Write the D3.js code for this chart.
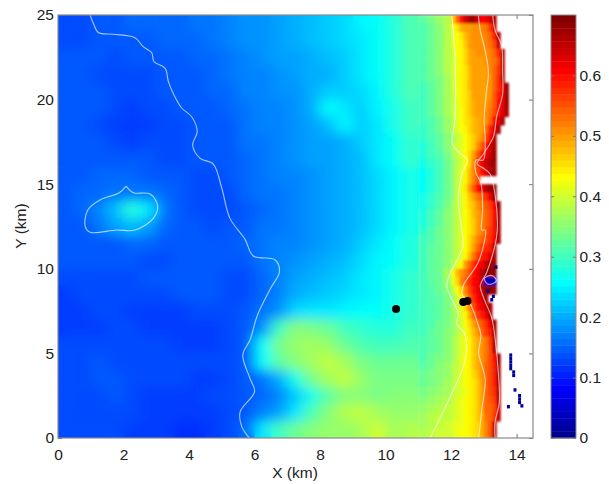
<!DOCTYPE html>
<html>
<head>
<meta charset="utf-8">
<script src="https://cdn.jsdelivr.net/npm/d3@7"></script>
<style>
body { margin: 0; background: #fff; }
text { font-family: "Liberation Sans", Arial, sans-serif; fill: #222; }
</style>
</head>
<body>
<div id="my_dataviz"></div>
<script>
var _ = null

// tick labels
var xTicks = [0, 2, 4, 6, 8, 10, 12, 14]
var yTicks = [0, 5, 10, 15, 20, 25]
var barTicks = [0, 0.1, 0.2, 0.3, 0.4, 0.5, 0.6]

// offshore part of the field, values x100. Columns are 0.5 km wide, rows 1 km tall, top row first
var offshoreX = [0, 0.5, 1, 1.5, 2, 2.5, 3, 3.5, 4, 4.5, 5, 5.5, 6, 6.5, 7, 7.5, 8, 8.5, 9, 9.5, 10, 10.5, 11]
var offshoreRows = [
    [13,13,14,14,15,15,15,15,16,16,17,18,18,19,20,21,22,23,25,26,28,31],
    [13,13,14,14,14,14,15,15,15,16,17,18,18,19,20,21,22,23,24,26,28,31],
    [14,14,14,13,14,14,14,14,15,15,16,17,18,19,19,20,21,22,24,26,28,31],
    [14,14,13,13,13,13,14,14,14,15,16,17,17,18,19,20,20,22,24,26,28,31],
    [14,14,14,13,13,13,14,14,14,15,15,17,17,18,18,20,22,22,23,25,28,31],
    [14,14,14,13,12,13,13,14,14,14,15,16,17,17,18,20,26,24,22,25,27,30],
    [14,14,13,12,12,12,13,13,14,14,14,16,17,17,18,19,21,25,22,24,27,30],
    [14,14,14,13,12,13,13,13,14,14,14,16,16,17,18,19,19,20,22,24,26,29],
    [14,14,14,14,14,14,13,13,14,14,14,15,16,17,18,19,19,20,21,24,26,29],
    [14,14,15,15,15,14,14,14,13,13,14,15,16,17,17,18,19,20,21,23,25,27],
    [14,15,15,16,16,16,15,14,13,13,13,15,16,16,17,18,19,20,21,23,25,27],
    [14,15,17,21,28,24,16,14,13,13,13,14,15,16,17,18,19,20,21,23,25,27],
    [14,14,16,19,21,19,15,14,14,13,14,14,16,16,17,18,19,20,21,23,25,27],
    [14,14,14,14,15,15,14,14,14,14,14,15,16,17,17,18,19,20,22,24,26,28],
    [14,14,14,14,14,13,13,14,14,14,14,14,16,17,18,19,20,21,23,25,26,28],
    [13,13,13,13,13,14,14,14,14,14,13,13,15,17,19,20,21,22,24,25,27,29],
    [12,13,13,13,13,13,13,14,14,14,13,13,15,17,20,21,22,23,24,25,27,29],
    [12,12,13,13,12,12,12,12,13,13,13,14,16,18,23,24,24,25,26,26,27,29],
    [12,12,12,13,13,12,12,12,12,12,13,14,18,30,35,34,33,30,29,28,28,30],
    [13,13,13,13,13,13,13,12,12,12,13,14,26,34,36,37,36,33,31,30,30,31],
    [13,13,14,13,13,13,13,13,13,13,13,14,26,32,35,37,39,37,34,33,33,33],
    [13,13,14,14,13,13,13,13,12,12,13,14,16,20,27,34,37,39,36,34,34,34],
    [13,13,13,14,13,12,12,12,12,13,13,14,15,17,22,27,32,35,35,34,35,35],
    [13,13,13,13,13,12,12,12,12,12,13,14,17,19,24,31,35,38,39,37,36,36],
    [13,13,13,13,12,12,12,11,11,12,13,15,24,30,33,35,36,36,37,40,37,38]
]

// coastal part of the field, values x100. Rows are 0.5 km tall, top row first, null is no data
var coastX = [11, 11.25, 11.5, 11.75, 12, 12.125, 12.25, 12.375, 12.5, 12.625, 12.75, 12.875, 13, 13.125, 13.25, 13.375, 13.5, 13.625, 13.75]
var coastRows = [
    [32,34,36,38,47,54,60,64,67,68,64,61,62,64,67,_,_,_],
    [31,33,35,38,42,45,49,50,50,51,51,52,53,57,64,_,_,_],
    [31,33,35,38,41,43,45,48,50,51,51,51,52,54,59,66,_,_],
    [31,33,35,38,41,43,44,47,50,51,51,51,52,53,56,64,_,_],
    [31,33,35,38,40,43,44,46,49,50,51,51,51,52,54,58,66,_],
    [31,33,35,38,40,42,44,46,49,50,50,50,51,52,53,56,65,_],
    [31,33,35,38,40,42,44,45,48,50,50,50,50,52,54,57,65,_],
    [31,33,34,37,40,42,44,45,48,50,50,50,50,51,54,58,66,_],
    [30,32,34,37,40,42,44,45,48,50,50,50,50,51,54,58,62,68],
    [30,32,34,37,39,42,44,45,47,50,50,50,50,51,55,59,62,68],
    [30,32,34,37,39,41,44,45,47,49,50,50,50,52,55,60,62,68],
    [30,32,34,37,39,41,43,45,47,49,50,50,51,53,56,60,63,67],
    [30,31,33,36,38,41,43,45,46,48,49,50,51,54,60,63,67,_],
    [29,31,33,36,38,41,43,44,46,48,49,50,53,59,62,67,_,_],
    [29,31,32,35,37,39,41,43,45,47,49,51,56,60,66,_,_,_],
    [28,30,32,35,38,40,41,43,45,47,51,55,60,64,67,_,_,_],
    [28,30,31,34,37,39,41,43,46,50,55,59,62,65,68,_,_,_],
    [27,29,30,33,36,38,40,43,46,52,58,62,65,67,68,_,_,_],
    [26,28,30,33,36,39,41,44,48,52,56,60,63,66,68,_,_,_],
    [26,28,30,33,36,39,41,44,48,52,56,_,_,_,_,_,_,_],
    [26,28,30,33,36,39,42,45,50,55,60,63,66,68,68,_,_,_],
    [27,29,31,33,36,39,41,44,47,50,53,55,58,62,68,_,_,_],
    [27,29,31,34,37,39,41,44,46,48,51,53,55,57,61,68,_,_],
    [28,30,32,35,37,39,41,43,45,48,50,52,54,56,60,67,_,_],
    [28,30,32,35,37,39,41,43,45,47,50,52,54,56,60,67,_,_],
    [29,31,33,35,37,39,41,43,45,47,50,52,55,57,60,67,_,_],
    [30,31,33,35,37,39,41,43,46,49,52,54,56,58,61,67,_,_],
    [30,32,33,35,37,39,41,43,46,50,54,57,58,59,66,_,_,_],
    [30,32,33,35,37,39,41,44,48,53,57,59,60,63,67,_,_,_],
    [30,32,33,35,38,41,44,50,54,58,61,62,65,68,68,_,_,_],
    [30,32,33,37,43,48,51,53,56,60,62,66,69,69,69,_,_,_],
    [30,32,33,36,42,46,52,55,58,61,62,65,3,3,3,_,_,_],
    [30,31,33,35,39,43,47,52,56,60,62,65,69,69,68,_,_,_],
    [30,31,32,34,37,40,44,50,55,58,61,64,67,_,_,_,_,_],
    [30,31,32,34,37,39,42,46,52,56,60,62,65,67,_,_,_,_],
    [30,31,32,34,36,38,41,44,49,54,57,59,62,67,_,_,_,_],
    [30,31,33,34,36,38,40,43,46,50,53,55,58,62,68,_,_,_],
    [30,32,33,35,36,38,40,42,45,48,51,54,57,59,67,_,_,_],
    [31,32,33,35,37,39,41,42,44,47,49,51,53,57,66,_,_,_],
    [31,32,33,35,37,39,41,42,44,47,49,51,53,56,66,_,_,_],
    [31,33,34,35,37,39,41,43,44,47,49,51,53,56,60,68,_,_],
    [32,33,35,36,38,39,41,43,44,47,49,51,54,56,59,67,_,_],
    [33,34,35,36,38,40,41,43,44,46,48,51,54,56,59,67,_,_],
    [33,34,35,37,38,40,41,43,44,45,47,50,54,56,59,66,_,_],
    [34,35,36,37,39,40,41,42,44,45,47,50,54,56,58,66,_,_],
    [35,36,37,38,39,41,42,43,44,45,47,50,54,55,57,65,_,_],
    [36,37,38,39,40,41,42,43,44,45,47,50,54,54,56,64,_,_],
    [37,38,39,39,40,41,42,43,44,45,47,49,53,54,57,65,_,_],
    [37,38,39,40,41,42,42,43,44,45,46,49,52,55,65,_,_,_],
    [38,39,40,40,41,42,43,43,44,45,46,49,52,55,66,_,_,_]
]

// isolated low value cells out in the white part
var speckX = [13.82, 13.82, 13.82, 13.82, 13.82, 13.91, 13.91, 13.95, 14.09, 14.09, 14.09, 14.16, 13.75, 13.37, 13.29, 13.24, 13.12]
var speckY = [4.9, 4.7, 4.5, 4.3, 4.1, 3.9, 3.7, 2.84, 2.5, 2.3, 2.1, 1.9, 1.85, 10.1, 8.37, 8.17, 8.67]

// contour lines, km
var contourLeftX = [0.98,1.08,1.23,1.69,2.35,2.6,2.86,2.93,3.27,3.37,3.54,3.78,4.08,4.25,4.11,4.34,4.74,5,5.25,5.71,5.96,6.63,6.76,6.49,6.09,5.86,5.64,5.86,6,5.56,5.61,5.84]
var contourLeftY = [25,24.5,23.97,23.86,23.66,23.13,22.77,22.24,21.85,21.06,20.27,19.49,18.99,18.1,17.32,16.53,16.19,14.76,12.98,11.74,10.76,10.52,9.83,8.85,7.27,5.79,4.91,3.53,2.74,1.55,0.67,0]
var contourBlobX = [2.08,2.3,2.81,3.04,2.91,2.35,1.79,0.98,0.83,0.91,1.28,1.87,2.08]
var contourBlobY = [14.89,14.5,14.42,13.73,12.98,12.29,12.29,12.16,12.49,13.48,14.07,14.5,14.89]
var contourMidX = [12.02,12.12,12.12,12.05,12.27,12.5,12.33,12.22,12.33,12.36,11.87,12.22,12.17,12.43,12.43,12.07,11.36]
var contourMidY = [25,22.34,18.99,17.32,16.83,16.43,15.64,13.87,12.29,11.31,9.04,7.37,6.78,6.09,4.61,2.84,0]
var contourInnerX = [12.83,12.89,13.04,13.14,13.07,13.01,13.04,12.98,12.76,12.76,12.91,12.96,12.94,13.04,12.84,12.37,12.35,12.47,12.66,12.8,12.91,12.84,13.04,12.94,12.84]
var contourInnerY = [25,24.1,22.88,21.6,20.34,18.77,17.6,16.43,16.43,15.66,15.08,13.5,12.29,12.29,10.43,9.0,8.4,8.28,7.63,6.84,6.05,5.03,3.49,1.72,0]
var contourOuterX = [13.27,13.34,13.54,13.57,13.57,13.39,13.29,12.99,12.79,12.94,13.19,13.34,13.41,13.34,13.09,12.89,12.99,13.24,13.34,13.44,13.47,13.34,13.34]
var contourOuterY = [25,24.1,23.2,21.7,20.3,19.0,17.8,16.8,16.2,16.0,15.6,14.4,12.3,11.4,9.8,9.0,8.3,7.1,5.9,3.9,2.1,0.9,0]
var ringX = [13.0,13.12,13.28,13.38,13.26,13.1,13.0]
var ringY = [9.42,9.58,9.58,9.3,9.12,9.12,9.42]

// black dots
var dotX = [10.32, 12.37, 12.5]
var dotY = [7.62, 8.04, 8.1]

var width = 609
var height = 484

var svg = d3.select("#my_dataviz")
    .append("svg")
    .attr("width", width)
    .attr("height", height)
    .style("display", "block")

var defs = svg.append("defs")

defs.append("clipPath")
    .attr("id", "plot-clip")
    .append("rect")
    .attr("x", 58).attr("y", 15)
    .attr("width", 475).attr("height", 423)

function addBlur(id, sx, sy) {
    defs.append("filter")
        .attr("id", id)
        .attr("filterUnits", "userSpaceOnUse")
        .attr("x", 0).attr("y", 0)
        .attr("width", width).attr("height", height)
        .append("feGaussianBlur")
        .attr("stdDeviation", sx + " " + sy)
}
addBlur("blur-wide", 7, 6)
addBlur("blur-coast", 0.8, 1)
addBlur("blur-speck", 0.4, 0.4)

var x = d3.scaleLinear().domain([0, 14.5]).range([58, 533])
var y = d3.scaleLinear().domain([0, 25]).range([438, 15])
var barY = d3.scaleLinear().domain([0, 0.7]).range([438, 15])

// matlab jet, 64 levels
var jet = d3.scaleLinear()
    .domain([0, 7, 23, 39, 55, 63])
    .range(["#000090", "#0000ff", "#00ffff", "#ffff00", "#ff0000", "#800000"])
    .clamp(true)

function valueColor(v) {
    return jet(v / 0.7 * 63)
}

// axes go under the field, so only the ticks over the white part show
function styleAxis(g) {
    g.selectAll("text").style("font-size", "15.5px")
    g.selectAll("line").attr("stroke", "#777")
    g.select(".domain").remove()
}

svg.append("g").attr("transform", "translate(0,438)")
    .call(d3.axisBottom(x).tickValues(xTicks).tickSizeInner(-4).tickSizeOuter(0).tickPadding(11).tickFormat(d3.format("d")))
    .call(styleAxis)
svg.append("g").attr("transform", "translate(0,15)")
    .call(d3.axisTop(x).tickValues(xTicks).tickSizeInner(-4).tickSizeOuter(0).tickFormat(""))
    .call(styleAxis)
svg.append("g").attr("transform", "translate(58,0)")
    .call(d3.axisLeft(y).tickValues(yTicks).tickSizeInner(-4).tickSizeOuter(0).tickPadding(4).tickFormat(d3.format("d")))
    .call(styleAxis)
svg.append("g").attr("transform", "translate(533,0)")
    .call(d3.axisRight(y).tickValues(yTicks).tickSizeInner(-4).tickSizeOuter(0).tickFormat(""))
    .call(styleAxis)

// draw one block of cells. xEdges has one more entry than a row has cells
function drawCells(parent, rows, xEdges, rowHeight) {
    var cells = []
    rows.forEach(function(row, r) {
        row.forEach(function(v, c) {
            if (v !== null) cells.push({r: r, c: c, v: v / 100})
        })
    })
    parent.selectAll("rect")
        .data(cells)
        .enter()
        .append("rect")
        .attr("x", function(d) { return x(xEdges[d.c]) })
        .attr("width", function(d) { return x(xEdges[d.c + 1]) - x(xEdges[d.c]) + 0.5 })
        .attr("y", function(d) { return y(25 - d.r * rowHeight) })
        .attr("height", function(d) { return y(25 - (d.r + 1) * rowHeight) - y(25 - d.r * rowHeight) + 0.5 })
        .attr("fill", function(d) { return valueColor(d.v) })
}

var field = svg.append("g").attr("clip-path", "url(#plot-clip)")

// sharp copy under the blurred one keeps the edges from fading to white
drawCells(field.append("g"), offshoreRows, offshoreX, 1)
drawCells(field.append("g").attr("filter", "url(#blur-wide)"), offshoreRows, offshoreX, 1)
drawCells(field.append("g").attr("filter", "url(#blur-coast)"), coastRows, coastX, 0.5)

field.append("g")
    .attr("filter", "url(#blur-speck)")
    .selectAll("rect")
    .data(speckX)
    .enter()
    .append("rect")
    .attr("x", function(d) { return x(d - 0.045) })
    .attr("width", x(0.09) - x(0))
    .attr("y", function(d, i) { return y(speckY[i] + 0.1) })
    .attr("height", y(0) - y(0.2))
    .attr("fill", valueColor(0.01))

// contours
var contourLine = d3.line()
    .x(function(d) { return x(d[0]) })
    .y(function(d) { return y(d[1]) })
    .curve(d3.curveCatmullRom)

var contours = [
    [contourLeftX, contourLeftY],
    [contourBlobX, contourBlobY],
    [contourMidX, contourMidY],
    [contourInnerX, contourInnerY],
    [contourOuterX, contourOuterY],
    [ringX, ringY]
]

field.selectAll("path.contour")
    .data(contours)
    .enter()
    .append("path")
    .attr("class", "contour")
    .attr("fill", "none")
    .attr("stroke", "#fff")
    .attr("stroke-opacity", 0.65)
    .attr("stroke-width", 1.1)
    .attr("d", function(d) { return contourLine(d3.zip(d[0], d[1])) })

field.selectAll("circle")
    .data(dotX)
    .enter()
    .append("circle")
    .attr("cx", function(d) { return x(d) })
    .attr("cy", function(d, i) { return y(dotY[i]) })
    .attr("r", 4)
    .attr("fill", "#000")

// plot frame
svg.append("rect")
    .attr("x", 58).attr("y", 15)
    .attr("width", 475).attr("height", 423)
    .attr("fill", "none")
    .attr("stroke", "#8a8a8a")
    .attr("stroke-width", 1.2)

// axis titles
svg.append("text")
    .attr("x", 295).attr("y", 478)
    .attr("text-anchor", "middle")
    .style("font-size", "15.5px")
    .text("X (km)")

svg.append("text")
    .attr("transform", "translate(26,226) rotate(-90)")
    .attr("text-anchor", "middle")
    .style("font-size", "15.5px")
    .text("Y (km)")

// colorbar, 64 steps
var levels = d3.range(64)
var bar = svg.append("g")

bar.selectAll("rect")
    .data(levels)
    .enter()
    .append("rect")
    .attr("x", 551)
    .attr("width", 25)
    .attr("y", function(d) { return barY((d + 1) / 64 * 0.7) })
    .attr("height", function(d) { return barY(d / 64 * 0.7) - barY((d + 1) / 64 * 0.7) + 0.4 })
    .attr("fill", function(d) { return jet(d) })

svg.append("g").attr("transform", "translate(576,0)")
    .call(d3.axisRight(barY).tickValues(barTicks).tickSizeInner(-3).tickSizeOuter(0).tickPadding(3.5).tickFormat(function(d) { return d === 0 ? "0" : d3.format(".1f")(d) }))
    .call(styleAxis)
svg.append("g").attr("transform", "translate(551,0)")
    .call(d3.axisLeft(barY).tickValues(barTicks).tickSizeInner(-3).tickSizeOuter(0).tickFormat(""))
    .call(styleAxis)

svg.append("rect")
    .attr("x", 551).attr("y", 15)
    .attr("width", 25).attr("height", 423)
    .attr("fill", "none")
    .attr("stroke", "#8a8a8a")
    .attr("stroke-width", 1)
</script>
</body>
</html>
